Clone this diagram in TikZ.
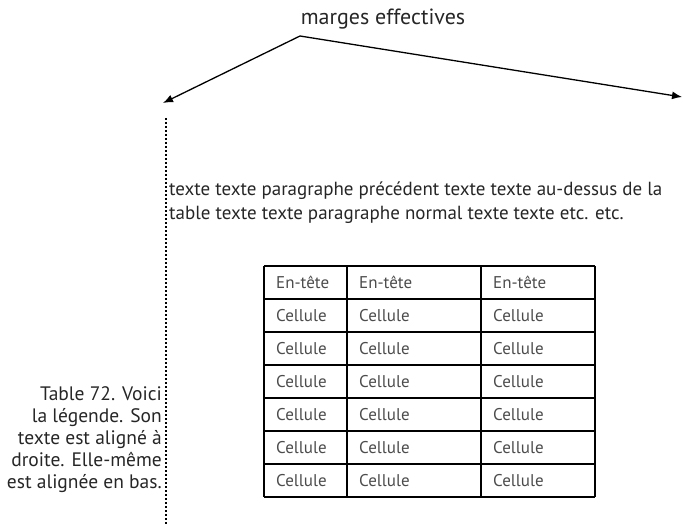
\documentclass[tikz,border=0pt]{standalone}
\usepackage{fontspec}
\setmainfont{PT Sans}
\usetikzlibrary{arrows.meta}
\begin{document}
\begin{tikzpicture}[x=1pt,y=-1pt,
  every node/.style={inner sep=0pt},
  marker/.style={line width=1.3pt, -{Latex[length=10pt,width=8pt]}},
  rule/.style={line width=1.2pt},
  cell/.style={anchor=base west, font=\fontsize{17}{18}\selectfont, text=black!70}]
  \useasboundingbox (0,0) rectangle (683,524);
  % Label and the two margins it points at
  \node[anchor=base, font=\fontsize{22}{24}\selectfont, text=black!85] (title) at (383,25) {marges effectives};
  \coordinate (apex) at (300,36);
  \coordinate (lefttip) at (163,103);
  \coordinate (righttip) at (682,97);
  \draw[marker] (apex) -- (lefttip);
  \draw[marker] (apex) -- (righttip);

  % Left margin of the text block
  \coordinate (margintop) at (166,118);
  \coordinate (marginbot) at (166,524);
  \draw[line width=1.3pt, dash pattern=on 2pt off 2pt] (margintop) -- (marginbot);

  % Paragraph above the table
  \node[anchor=base west, align=left, font=\fontsize{19}{24}\selectfont, text=black!85] (para) at (169,219)
    {texte texte paragraphe précédent texte texte au-dessus de la\\
     table texte texte paragraphe normal texte texte etc. etc.};

  % Caption, flush right against the margin
  \node[anchor=south east, align=right, font=\fontsize{19.5}{22}\selectfont, text=black!85] (caption) at (162,493)
    {Table 72. Voici\\la légende. Son\\texte est aligné à\\droite. Elle-même\\est alignée en bas.};

  % The table
  \foreach \k in {0,...,7}
    \draw[rule] (264,266+33*\k) -- (595,266+33*\k);
  \foreach \x in {264,347,481,595}
    \draw[rule] (\x,266) -- (\x,497);
  \foreach \x/\c in {276/a,359/b,493/c}
    \node[cell] (head-\c) at (\x,288) {En-tête};
  \foreach \k in {1,...,6}
    \foreach \x/\c in {276/a,359/b,493/c}
      \node[cell] (cell-\k-\c) at (\x,288+33*\k) {Cellule};
\end{tikzpicture}
\end{document}
